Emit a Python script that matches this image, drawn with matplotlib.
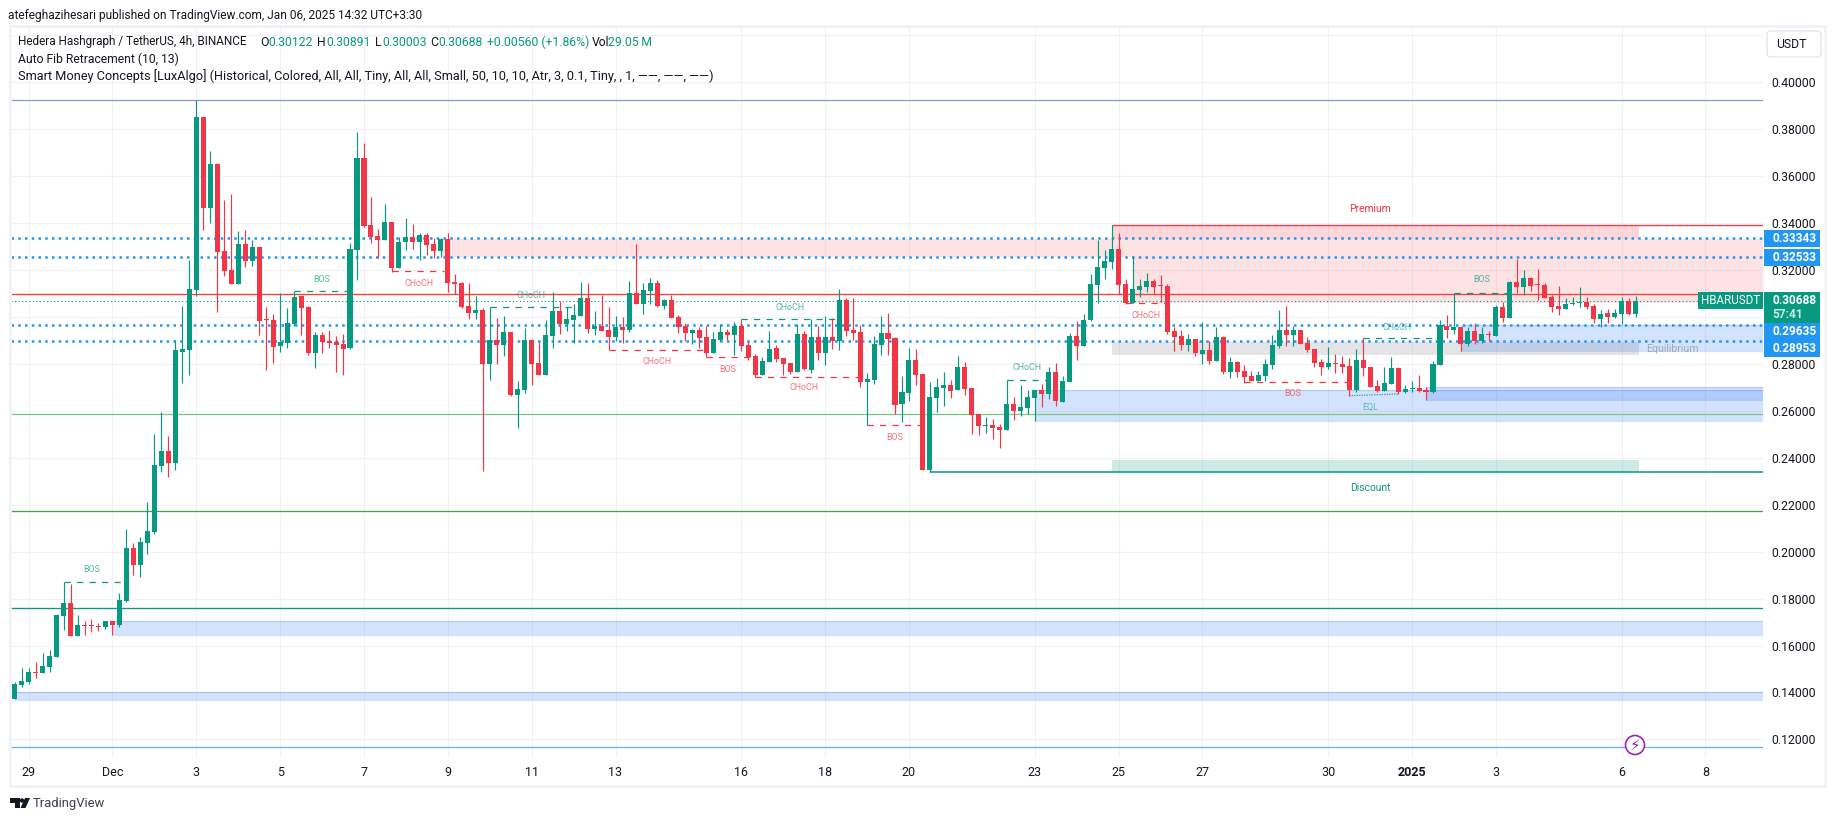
import matplotlib
matplotlib.use("Agg")
import matplotlib.pyplot as plt
import numpy as np
from matplotlib.patches import Circle, FancyBboxPatch, Polygon, Rectangle

W, H = 1835, 821
GREEN = "#089981"
RED = "#f23645"
BLUE = "#2196f3"
ZONE_BLUE = "#236ef5"
GRID = "#f1f2f6"
TEXT = "#131722"

# 4h candles, index 0 is Dec 3 00:00 (one bar = 4h)
first_bar = -26
opens = [
    .1372, .1431, .1444, .1487, .1483, .1508, .1551, .1725, .1781, .1640,
    .1687, .1687, .1683, .1679, .1704, .1687, .1789, .2015, .1943, .2036,
    .2083, .2364, .2428, .2377, .2850, .2858, .3114, .3851, .3463, .3651,
    .3280, .3199, .3140, .3310, .3237, .3297, .2990, .2986, .2875, .2888,
    .2969, .3088, .3042, .2846, .2922, .2897, .2892, .2884, .2867, .3284,
    .3676, .3391, .3344, .3327, .3404, .3208, .3319, .3340, .3319, .3348,
    .3310, .3280, .3331, .3148, .3144, .3046, .3016, .3029, .2799, .2901,
    .2880, .2935, .2667, .2688, .2901, .2803, .2752, .2918, .3025, .2969,
    .2986, .3003, .3080, .2948, .2961, .2944, .2914, .2957, .2944, .3101,
    .3055, .3110, .3144, .3046, .3071, .2999, .2961, .2931, .2944, .2914,
    .2846, .2901, .2935, .2922, .2961, .2880, .2833, .2752, .2807, .2867,
    .2825, .2803, .2765, .2927, .2773, .2914, .2846, .2914, .2897, .3071,
    .2944, .2935, .2722, .2731, .2880, .2931, .2910, .2628, .2675, .2816,
    .2756, .2347, .2654, .2697, .2709, .2688, .2786, .2697, .2586, .2535,
    .2539, .2531, .2518, .2628, .2599, .2611, .2654, .2688, .2671, .2765,
    .2637, .2722, .2918, .2876, .2986, .3136, .3208, .3233, .3289, .3140,
    .3059, .3114, .3127, .3152, .3135, .3131, .2939, .2918, .2880, .2905,
    .2842, .2859, .2812, .2914, .2765, .2807, .2769, .2748, .2727, .2748,
    .2795, .2876, .2944, .2922, .2944, .2888, .2863, .2807, .2786, .2803,
    .2799, .2790, .2688, .2816, .2786, .2705, .2684, .2714, .2782, .2680,
    .2692, .2697, .2688, .2680, .2795, .2961, .2944, .2956, .2884, .2939,
    .2897, .2927, .2918, .3042, .2995, .3148, .3127, .3165, .3140, .3135,
    .3084, .3046, .3033, .3055, .3059, .3063, .3046, .2991, .3016, .2999,
    .3012, .3067, .30122,
]
highs = [
    .1443, .1503, .1503, .1528, .1568, .1581, .1734, .1870, .1862, .1730,
    .1704, .1713, .1696, .1704, .1704, .1823, .2096, .2036, .2062, .2211,
    .2501, .2595, .2492, .2901, .3046, .3242, .3923, .3851, .3706, .3655,
    .3497, .3523, .3365, .3370, .3327, .3297, .3042, .3012, .3101, .3037,
    .3110, .3088, .3046, .2935, .2935, .2944, .2918, .2927, .3314, .3787,
    .3740, .3510, .3374, .3480, .3404, .3340, .3421, .3395, .3357, .3357,
    .3336, .3336, .3357, .3182, .3148, .3144, .3088, .3037, .3042, .2995,
    .3003, .2935, .2726, .2952, .2905, .2892, .2986, .3106, .3067, .3042,
    .3054, .3148, .3144, .3025, .3094, .3042, .3003, .2999, .3152, .3310,
    .3144, .3165, .3157, .3076, .3093, .3008, .2974, .2948, .2957, .2961,
    .2935, .2969, .2948, .2978, .2991, .2897, .2842, .2829, .2939, .2880,
    .2825, .2803, .2969, .2939, .2991, .2961, .3003, .2995, .3118, .3080,
    .3080, .2965, .2761, .2918, .3003, .3016, .2914, .2748, .2867, .2863,
    .2756, .2722, .2739, .2765, .2731, .2833, .2807, .2697, .2586, .2573,
    .2565, .2543, .2731, .2658, .2709, .2688, .2688, .2714, .2786, .2803,
    .2748, .2931, .2982, .3012, .3182, .3327, .3284, .3391, .3355, .3161,
    .3259, .3161, .3186, .3161, .3178, .3140, .2956, .2944, .2927, .2905,
    .2978, .2897, .2956, .2918, .2829, .2812, .2795, .2769, .2769, .2820,
    .2922, .3029, .3046, .2961, .2944, .2914, .2863, .2820, .2871, .2842,
    .2833, .2824, .2863, .2910, .2786, .2731, .2786, .2829, .2786, .2709,
    .2727, .2752, .2701, .2812, .2986, .3008, .3101, .2956, .2956, .2973,
    .2956, .2939, .3050, .3063, .3152, .3246, .3199, .3170, .3204, .3144,
    .3093, .3131, .3080, .3084, .3127, .3084, .3055, .3029, .3033, .3033,
    .3084, .3080, .30891,
]
lows = [
    .1372, .1423, .1436, .1461, .1483, .1487, .1551, .1666, .1640, .1640,
    .1644, .1657, .1662, .1670, .1644, .1679, .1785, .1900, .1892, .1990,
    .2075, .2339, .2318, .2347, .2718, .2752, .3088, .3370, .3399, .3020,
    .3174, .3140, .3140, .3212, .3216, .2922, .2775, .2803, .2850, .2867,
    .2961, .2922, .2837, .2782, .2846, .2867, .2765, .2752, .2863, .3157,
    .3382, .3314, .3250, .3327, .3191, .3208, .3284, .3289, .3242, .3263,
    .3250, .3255, .3106, .3097, .3037, .2990, .2990, .2345, .2731, .2799,
    .2833, .2662, .2525, .2675, .2709, .2752, .2752, .2867, .2927, .2939,
    .2888, .3003, .2931, .2922, .2939, .2859, .2897, .2888, .2935, .3055,
    .3012, .3055, .3042, .3033, .2995, .2931, .2897, .2884, .2867, .2829,
    .2846, .2897, .2901, .2837, .2854, .2816, .2742, .2752, .2807, .2807,
    .2752, .2756, .2765, .2773, .2760, .2816, .2795, .2863, .2859, .2918,
    .2901, .2701, .2539, .2714, .2837, .2837, .2586, .2552, .2641, .2709,
    .2347, .2337, .2594, .2620, .2654, .2688, .2667, .2501, .2496, .2505,
    .2479, .2441, .2518, .2560, .2577, .2586, .2556, .2616, .2650, .2620,
    .2637, .2722, .2816, .2876, .2982, .3059, .3161, .3204, .3097, .3054,
    .3059, .3084, .3106, .3097, .3063, .2927, .2854, .2859, .2854, .2833,
    .2799, .2799, .2812, .2756, .2739, .2743, .2718, .2727, .2727, .2727,
    .2778, .2867, .2876, .2876, .2884, .2850, .2786, .2752, .2778, .2760,
    .2760, .2663, .2680, .2748, .2701, .2680, .2684, .2714, .2671, .2675,
    .2680, .2680, .2645, .2675, .2795, .2909, .2927, .2854, .2876, .2884,
    .2888, .2897, .2918, .2978, .2995, .3101, .3093, .3110, .3071, .3080,
    .3020, .3008, .3033, .3050, .3042, .3033, .2973, .2956, .2973, .2995,
    .2969, .3008, .30003,
]
closes = [
    .1436, .1449, .1487, .1483, .1512, .1555, .1730, .1781, .1640, .1687,
    .1683, .1684, .1679, .1704, .1687, .1794, .2015, .1943, .2041, .2088,
    .2369, .2428, .2377, .2858, .2863, .3118, .3851, .3463, .3651, .3276,
    .3195, .3140, .3310, .3237, .3297, .2982, .2986, .2871, .2892, .2973,
    .3084, .3037, .2846, .2922, .2892, .2888, .2880, .2863, .3289, .3676,
    .3387, .3340, .3327, .3404, .3208, .3319, .3340, .3319, .3348, .3306,
    .3280, .3331, .3144, .3140, .3042, .3016, .3029, .2799, .2901, .2880,
    .2935, .2667, .2692, .2901, .2799, .2752, .2922, .3025, .2969, .2990,
    .3007, .3080, .2948, .2961, .2939, .2914, .2957, .2944, .3101, .3055,
    .3114, .3144, .3046, .3071, .2995, .2957, .2931, .2944, .2910, .2846,
    .2905, .2935, .2922, .2961, .2875, .2829, .2752, .2812, .2863, .2820,
    .2799, .2765, .2927, .2778, .2914, .2846, .2914, .2897, .3071, .2939,
    .2931, .2722, .2735, .2884, .2931, .2905, .2624, .2680, .2816, .2752,
    .2347, .2658, .2701, .2709, .2684, .2786, .2692, .2582, .2535, .2539,
    .2526, .2518, .2628, .2599, .2616, .2658, .2688, .2671, .2765, .2641,
    .2726, .2918, .2876, .2986, .3140, .3212, .3238, .3289, .3136, .3059,
    .3118, .3131, .3152, .3127, .3131, .2935, .2914, .2880, .2905, .2846,
    .2859, .2812, .2914, .2765, .2807, .2765, .2743, .2727, .2752, .2799,
    .2880, .2944, .2922, .2944, .2884, .2859, .2803, .2786, .2803, .2799,
    .2786, .2688, .2816, .2782, .2701, .2684, .2718, .2782, .2680, .2692,
    .2697, .2684, .2680, .2799, .2965, .2944, .2956, .2884, .2939, .2897,
    .2927, .2922, .3042, .2995, .3148, .3127, .3165, .3131, .3135, .3080,
    .3042, .3033, .3055, .3059, .3063, .3042, .2991, .3012, .2999, .3016,
    .3067, .3012, .30688,
]

# axis ticks; .42 and .30 have a grid line but their labels are covered in the reference
price_ticks = [.42, .40, .38, .36, .34, .32, .30, .28, .26, .24, .22, .20, .18, .16, .14, .12]
hidden_ticks = [.42, .30]
date_bars = [-24, -12, 0, 12, 24, 36, 48, 60, 78, 90, 102, 120, 132, 144, 162, 174, 186, 204, 216]
date_labels = ["29", "Dec", "3", "5", "7", "9", "11", "13", "16", "18", "20", "23", "25", "27", "30", "2025", "3", "6", "8"]

# full width levels: fib lines and dotted levels
fib_levels = [.3923, .3096, .2586, .2173, .1760, .1168]
fib_colors = ["#8f9cc6", "#f44336", "#81c784", "#43a047", GREEN, "#64b5f6"]
dotted_levels = [.33343, .32533, .29635, .28953]
last_close = .30688

# zones: start bar, top, bottom (all run to the right edge)
blue_start = [-26, -12, 120, 176, 181]
blue_top = [.1401, .1704, .2688, .2700, .2965]
blue_bottom = [.1370, .1646, .2556, .2647, .2855]
pink_start = [35, 134]
pink_top = [.3331, .3255]
pink_bottom = [.3255, .3060]

# structure labels: start bar, end bar, level
bos_bars = [(-19, -10), (14, 22), (180, 188)]
bos_levels = [.1870, .3108, .3100]
choch_up_bars = [(42, 55), (78, 92), (116, 122), (167, 177)]
choch_up_levels = [.3040, .2991, .2729, .2908]
bos_dn_bars = [(73, 80), (96, 104), (150, 165)]
bos_dn_levels = [.2829, .2539, .2721]
choch_dn_bars = [(28, 35.5), (59, 73), (80, 95), (133, 139)]
choch_dn_levels = [.3194, .2859, .2742, .3057]

fig = plt.figure(figsize=(W / 100, H / 100), dpi=100, facecolor="white")
plt.rcParams["font.family"] = ["Roboto", "DejaVu Sans"]

# main pane: left 11, right 1763, top 27, bottom 758 in pixels
ax = fig.add_axes([11 / W, 1 - 758 / H, (1763 - 11) / W, (758 - 27) / H])
bar_step = 6.987
ax.set_xlim((11 - 196.3) / bar_step, (1763 - 196.3) / bar_step)
ax.set_ylim(.40 - (758 - 82) / 2348, .40 + (82 - 27) / 2348)
x_end = ax.get_xlim()[1]
for s in ax.spines.values():
    s.set_visible(False)

ax.set_axisbelow(True)
ax.grid(True, color=GRID, linewidth=0.8)
ax.yaxis.tick_right()
ax.set_yticks(price_ticks)
ax.set_yticklabels(["" if p in hidden_ticks else f"{p:.5f}" for p in price_ticks], fontsize=8.8, color=TEXT)
ax.set_xticks(date_bars)
ax.set_xticklabels(date_labels, fontsize=9, color=TEXT)
ax.tick_params(axis="both", length=0)
ax.tick_params(axis="y", pad=6)
ax.tick_params(axis="x", pad=6)
ax.get_xticklabels()[date_labels.index("2025")].set_fontweight("bold")

# zones
for x0, t, b in zip(blue_start, blue_top, blue_bottom):
    ax.add_patch(Rectangle((x0, b), x_end - x0, t - b, facecolor=ZONE_BLUE, alpha=0.2, lw=0, zorder=1))
    ax.hlines([t, b], x0, x_end, color=ZONE_BLUE, alpha=0.2, lw=0.9, zorder=1)
for x0, t, b in zip(pink_start, pink_top, pink_bottom):
    ax.add_patch(Rectangle((x0, b), x_end - x0, t - b, facecolor=RED, alpha=0.14, lw=0, zorder=1))
ax.add_patch(Rectangle((131, .3331), 75.5, .3390 - .3331, facecolor=RED, alpha=0.2, lw=0, zorder=1))
ax.add_patch(Rectangle((131, .2838), 75.5, .2893 - .2838, facecolor="#787b86", alpha=0.2, lw=0, zorder=1.2))
ax.add_patch(Rectangle((131, .2339), 75.5, .2390 - .2339, facecolor=GREEN, alpha=0.2, lw=0, zorder=1))

# levels
for level, color in zip(fib_levels, fib_colors):
    ax.axhline(level, color=color, lw=0.95, zorder=2)
ax.hlines(.3390, 131, x_end, color=RED, lw=0.95, zorder=2)
ax.hlines(.2339, 105, x_end, color=GREEN, lw=1.1, zorder=2)
for level in dotted_levels:
    ax.axhline(level, color=BLUE, lw=1.8, linestyle=(0, (1, 1.7)), zorder=2.2)
ax.axhline(last_close, color=GREEN, lw=0.8, linestyle=(0, (1, 2.2)), zorder=2.2)

# structure
for bars, levels, color in [(bos_bars, bos_levels, GREEN), (choch_up_bars, choch_up_levels, GREEN),
                            (bos_dn_bars, bos_dn_levels, RED), (choch_dn_bars, choch_dn_levels, RED)]:
    for (x0, x1), level in zip(bars, levels):
        ax.hlines(level, x0, x1, color=color, lw=0.9, linestyles=(0, (5, 5)), zorder=3)
ax.plot([165, 172], [.2664, .2671], color="#2a9d9d", lw=0.9, linestyle=(0, (1, 1)), zorder=3)

# candles
bars_x = first_bar + np.arange(len(opens))
o, h, l, c = np.array(opens), np.array(highs), np.array(lows), np.array(closes)
colors = np.where(c >= o, GREEN, RED)
ax.vlines(bars_x, l, h, colors=colors, lw=0.85, zorder=5)
ax.bar(bars_x, np.abs(c - o), bottom=np.minimum(o, c), width=0.72, color=colors, lw=0, zorder=6)

# overlay in pixel coordinates for legend, labels, frame, logo
over = fig.add_axes([0, 0, 1, 1], facecolor="none")
over.set_xlim(0, W)
over.set_ylim(H, 0)
over.axis("off")
over.add_patch(Rectangle((10, 26), 1815, 760, fill=False, edgecolor=GRID, lw=2))


def label(x, y, s, size=8.8, color=TEXT, ha="left", **kw):
    return over.text(x, y, s, fontsize=size, color=color, ha=ha, va="center", **kw)


label(8, 15, "atefeghazihesari published on TradingView.com, Jan 06, 2025 14:32 UTC+3:30", size=8.6)
label(18, 42, "Hedera Hashgraph / TetherUS, 4h, BINANCE", size=8.5)
for x, name, val_x, val in [(260, "O", 268, "0.30122"), (317, "H", 326, "0.30891"),
                            (375, "L", 382, "0.30003"), (430, "C", 438, "0.30688")]:
    label(x, 42, name)
    label(val_x, 42, val, color=GREEN)
label(487, 42, "+0.00560 (+1.86%)", color=GREEN)
label(592, 42, "Vol")
label(608, 42, "29.05\u2009M", color=GREEN)
label(18, 59, "Auto Fib Retracement (10, 13)", size=8.7)
label(18, 76, "Smart Money Concepts [LuxAlgo] (Historical, Colored, All, All, Tiny, All, All, Small, 50, 10, 10, Atr, 3, 0.1, Tiny, , 1, \u2014\u2014, \u2014\u2014, \u2014\u2014)", size=9.2)

# small structure labels
for x, y, s, color in [(92, 569, "BOS", GREEN), (322, 279, "BOS", GREEN), (419, 284, "CHoCH", RED),
                       (531, 295, "CHoCH", GREEN), (657, 362, "CHoCH", RED), (728, 370, "BOS", RED),
                       (790, 307, "CHoCH", GREEN), (804, 388, "CHoCH", RED), (895, 437, "BOS", RED),
                       (1027, 367, "CHoCH", GREEN), (1146, 315, "CHoCH", RED), (1293, 394, "BOS", RED),
                       (1397, 327, "CHoCH", GREEN), (1482, 280, "BOS", GREEN), (1370, 407, "EQL", "#2a9d9d")]:
    label(x, y, s, size=6.4, color=color, ha="center", alpha=0.7)
label(1370, 209, "Premium", size=7.4, color=RED, ha="center")
label(1370, 488, "Discount", size=7.4, color=GREEN, ha="center")
label(1672, 349, "Equilibrium", size=7.6, color="#787b86", ha="center", alpha=0.55)

# price axis tags
for y0, y1, s in [(230, 247, "0.33343"), (249, 266, "0.32533"), (323, 340, "0.29635"), (340, 357, "0.28953")]:
    over.add_patch(Rectangle((1764, y0), 56, y1 - y0, facecolor=BLUE, lw=0))
    label(1772, (y0 + y1) / 2, s, size=8.6, color="white", fontweight="bold")
over.add_patch(Rectangle((1764, 292), 56, 31, facecolor=GREEN, lw=0))
label(1772, 300.5, "0.30688", size=8.6, color="white", fontweight="bold")
label(1772, 314, "57:41", size=8.6, color="#c8ebe4", fontweight="bold")
over.add_patch(Rectangle((1698, 292), 65, 17, facecolor=GREEN, lw=0))
label(1730.5, 300.5, "HBARUSDT", size=8.4, color="white", ha="center")

# currency button
over.add_patch(FancyBboxPatch((1769, 33), 50, 22, boxstyle="round,pad=2,rounding_size=4",
                              facecolor="white", edgecolor="#e0e3eb", lw=0.9))
label(1776, 44.5, "USDT", size=8.8)

# lightning badge
over.add_patch(Circle((1635, 745), 9.5, facecolor="white", edgecolor="#9c27b0", lw=1.2, zorder=4))
over.text(1635, 745, "\u26a1", fontsize=11, color="#9c27b0", ha="center", va="center", family="DejaVu Sans", zorder=5)

# logo
logo = "#131722"
over.add_patch(Polygon([(10, 798), (20, 798), (20, 808), (15, 808), (15, 803), (10, 803)], facecolor=logo, lw=0))
over.add_patch(Circle((22, 800.5), 2.2, facecolor=logo, lw=0))
over.add_patch(Polygon([(25, 798), (30, 798), (25.5, 808), (20.5, 808)], facecolor=logo, lw=0))
label(33, 803, "TradingView", size=9.4, color="#3a3f4b")

fig.savefig("out.png", dpi=100)
